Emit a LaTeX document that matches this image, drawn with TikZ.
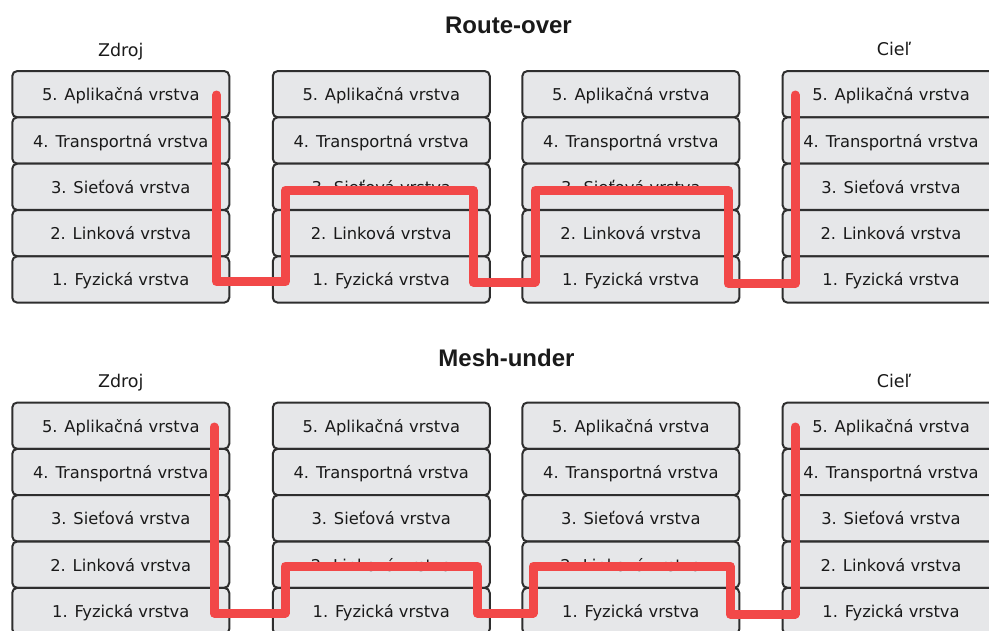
\documentclass[tikz,border=0pt]{standalone}
\usepackage{fontspec}
\setmainfont{DejaVu Sans}
\newfontfamily\headfont{Liberation Sans}
\definecolor{layerfill}{HTML}{E6E7E9}
\definecolor{layerline}{HTML}{2E2E2E}
\definecolor{pathred}{HTML}{F24848}
\definecolor{ink}{HTML}{1A1A1A}
\begin{document}
\begin{tikzpicture}[x=1pt,y=-1pt,
  layer/.style={draw=layerline, line width=2pt, fill=layerfill,
    rounded corners=5pt, minimum width=217pt, minimum height=46.3pt,
    inner sep=0pt, text height=13pt, text depth=0pt, text=ink,
    font=\fontsize{16.3}{18}\selectfont},
  heading/.style={font=\headfont\bfseries\fontsize{24}{28}\selectfont,
    text=ink, anchor=base},
  endlabel/.style={font=\fontsize{17.5}{20}\selectfont, text=ink, anchor=base},
  route/.style={draw=pathred, line width=9pt, line cap=round, line join=round}]
\useasboundingbox (0,0) rectangle (989,630);

% headings
\node[heading] (routeover) at (508.5,33.3) {Route-over};
\node[heading] (meshunder) at (506.5,366.7) {Mesh-under};
\node[endlabel] (tsrc) at (120.75,56) {Zdroj};
\node[endlabel] (tdst) at (894,55) {Cieľ};
\node[endlabel] (msrc) at (120.75,387.7) {Zdroj};
\node[endlabel] (mdst) at (894,387) {Cieľ};

% protocol stacks: t = route-over, m = mesh-under; a..d = hosts left to right
\foreach \sec/\top in {t/71, m/402.5}{
  \foreach \st/\cx in {a/120.75, b/381.25, c/630.85, d/891}{
    \foreach \n/\lbl in {5/5. Aplikačná vrstva, 4/4. Transportná vrstva,
                         3/3. Sieťová vrstva, 2/2. Linková vrstva,
                         1/1. Fyzická vrstva}{
      \pgfmathsetmacro\cy{\top+46.33*(5-\n)+23.17}
      \node[layer] (\sec\st\n) at (\cx,\cy) {\lbl};
    }
  }
}

% route-over path: up to the network layer in every router
\coordinate (tstart) at (216.5,95);
\coordinate (tend) at (795,95);
\draw[route] (tstart) -- (216.5,281.5) -- (285.5,281.5) -- (285.5,190)
  -- (473,190) -- (473,282) -- (535,282) -- (535,190) -- (728,190)
  -- (728,283.5) -- (795,283.5) -- (tend);

% mesh-under path: only up to the link layer in between
\coordinate (mstart) at (214,427);
\coordinate (mend) at (795,427);
\draw[route] (mstart) -- (214,613) -- (285,613) -- (285,566)
  -- (477,566) -- (477,613) -- (533,613) -- (533,566) -- (730,566)
  -- (730,614) -- (795,614) -- (mend);
\end{tikzpicture}
\end{document}
